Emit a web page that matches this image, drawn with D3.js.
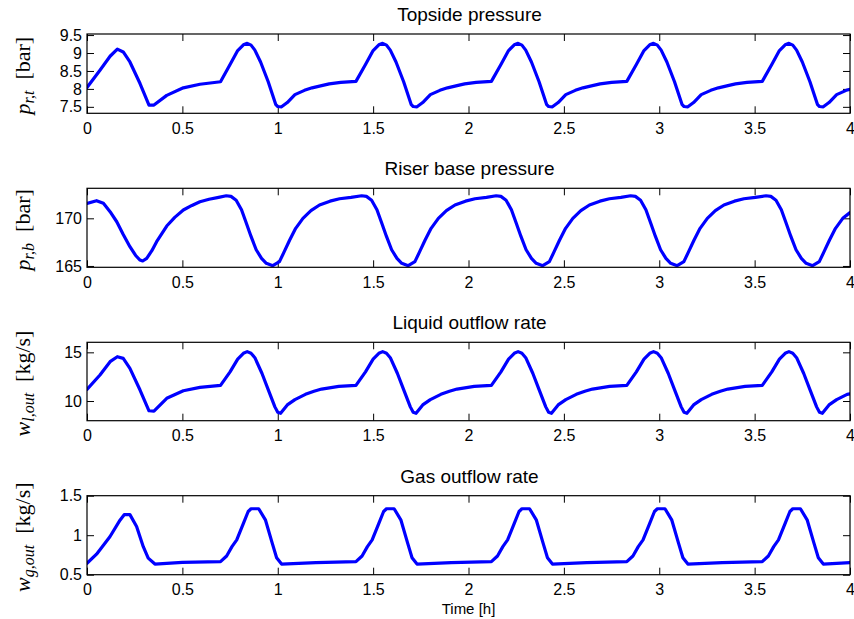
<!DOCTYPE html>
<html><head><meta charset="utf-8">
<script src="https://cdn.jsdelivr.net/npm/d3@7/dist/d3.min.js"></script>
<style>body{margin:0;background:#fff}</style>
</head><body>
<svg id="c" width="854" height="619"></svg>
<script>
// ---------------- data ----------------
const xTicks = [0, 0.5, 1, 1.5, 2, 2.5, 3, 3.5, 4];
const titles = ["Topside pressure", "Riser base pressure", "Liquid outflow rate", "Gas outflow rate"];
const xLabel = "Time [h]";

const topsideTicks = [7.5, 8, 8.5, 9, 9.5];
const riserTicks = [165, 170];
const liquidTicks = [10, 15];
const gasTicks = [0.5, 1, 1.5];

const topsideTime = [0, 0.068, 0.121, 0.159, 0.19, 0.225, 0.278, 0.325, 0.351, 0.418, 0.505, 0.592, 0.70,
  0.75, 0.79, 0.82, 0.84, 0.86, 0.88, 0.91, 0.95, 0.99, 1.00, 1.02, 1.05, 1.09, 1.14, 1.18, 1.23, 1.27, 1.33,
  1.41, 1.46, 1.50, 1.53, 1.55, 1.57, 1.59, 1.62, 1.66, 1.70, 1.71, 1.73, 1.76, 1.80, 1.85, 1.89, 1.94, 1.98, 2.04,
  2.12, 2.17, 2.21, 2.24, 2.26, 2.28, 2.30, 2.33, 2.37, 2.41, 2.42, 2.44, 2.47, 2.51, 2.56, 2.60, 2.65, 2.69, 2.75,
  2.83, 2.88, 2.92, 2.95, 2.97, 2.99, 3.01, 3.04, 3.08, 3.12, 3.13, 3.15, 3.18, 3.22, 3.27, 3.31, 3.36, 3.40, 3.46,
  3.54, 3.59, 3.63, 3.66, 3.68, 3.70, 3.72, 3.75, 3.79, 3.83, 3.84, 3.86, 3.89, 3.93, 3.98, 4.00];
const topsideP = [8.04, 8.52, 8.91, 9.11, 9.03, 8.75, 8.15, 7.55, 7.55, 7.82, 8.03, 8.13, 8.20,
  8.68, 9.07, 9.23, 9.27, 9.22, 9.08, 8.75, 8.20, 7.56, 7.51, 7.50, 7.62, 7.84, 7.96, 8.03, 8.09, 8.14, 8.18,
  8.21, 8.68, 9.07, 9.23, 9.27, 9.22, 9.08, 8.75, 8.20, 7.56, 7.51, 7.50, 7.62, 7.84, 7.96, 8.03, 8.09, 8.14, 8.18,
  8.21, 8.68, 9.07, 9.23, 9.27, 9.22, 9.08, 8.75, 8.20, 7.56, 7.51, 7.50, 7.62, 7.84, 7.96, 8.03, 8.09, 8.14, 8.18,
  8.21, 8.68, 9.07, 9.23, 9.27, 9.22, 9.08, 8.75, 8.20, 7.56, 7.51, 7.50, 7.62, 7.84, 7.96, 8.03, 8.09, 8.14, 8.18,
  8.21, 8.68, 9.07, 9.23, 9.27, 9.22, 9.08, 8.75, 8.20, 7.56, 7.51, 7.50, 7.62, 7.84, 7.96, 7.99];

const riserTime = [0, 0.05, 0.086, 0.121, 0.156, 0.19, 0.225, 0.255, 0.278, 0.292, 0.313, 0.34, 0.365, 0.418, 0.46, 0.505, 0.55, 0.592, 0.64, 0.69,
  0.73, 0.755, 0.782, 0.81, 0.835, 0.86, 0.887, 0.915, 0.94, 0.974, 1.009, 1.034, 1.062, 1.094, 1.132, 1.174, 1.219, 1.274, 1.324, 1.384,
  1.44, 1.465, 1.492, 1.52, 1.545, 1.57, 1.597, 1.625, 1.65, 1.684, 1.719, 1.744, 1.772, 1.804, 1.842, 1.884, 1.929, 1.984, 2.034, 2.094,
  2.145, 2.17, 2.197, 2.225, 2.25, 2.275, 2.302, 2.33, 2.355, 2.389, 2.424, 2.449, 2.477, 2.509, 2.547, 2.589, 2.634, 2.689, 2.739, 2.799,
  2.85, 2.875, 2.902, 2.93, 2.955, 2.98, 3.007, 3.035, 3.06, 3.094, 3.129, 3.154, 3.182, 3.214, 3.252, 3.294, 3.339, 3.394, 3.444, 3.504,
  3.56, 3.585, 3.612, 3.64, 3.665, 3.69, 3.717, 3.745, 3.77, 3.804, 3.839, 3.864, 3.892, 3.924, 3.962, 4.0];
const riserP = [171.57, 171.85, 171.57, 170.7, 169.64, 168.3, 167.02, 166.1, 165.62, 165.52, 165.8, 166.6, 167.55, 169.19, 170.1, 170.87, 171.35, 171.74, 172.0, 172.2,
  172.37, 172.3, 171.9, 170.9, 169.5, 168.1, 166.7, 165.8, 165.28, 165.03, 165.45, 166.5, 167.7, 168.95, 170.0, 170.8, 171.4, 171.8, 172.05, 172.2,
  172.37, 172.3, 171.9, 170.9, 169.5, 168.1, 166.7, 165.8, 165.28, 165.03, 165.45, 166.5, 167.7, 168.95, 170.0, 170.8, 171.4, 171.8, 172.05, 172.2,
  172.37, 172.3, 171.9, 170.9, 169.5, 168.1, 166.7, 165.8, 165.28, 165.03, 165.45, 166.5, 167.7, 168.95, 170.0, 170.8, 171.4, 171.8, 172.05, 172.2,
  172.37, 172.3, 171.9, 170.9, 169.5, 168.1, 166.7, 165.8, 165.28, 165.03, 165.45, 166.5, 167.7, 168.95, 170.0, 170.8, 171.4, 171.8, 172.05, 172.2,
  172.37, 172.3, 171.9, 170.9, 169.5, 168.1, 166.7, 165.8, 165.28, 165.03, 165.45, 166.5, 167.7, 168.95, 170.0, 170.6];

const liquidTime = [0, 0.068, 0.121, 0.159, 0.19, 0.225, 0.278, 0.325, 0.351, 0.418, 0.505, 0.592, 0.70,
  0.75, 0.79, 0.82, 0.84, 0.86, 0.88, 0.917, 0.95, 0.985, 1.00, 1.015, 1.05, 1.09, 1.145, 1.19, 1.23, 1.32,
  1.41, 1.46, 1.50, 1.53, 1.55, 1.57, 1.59, 1.627, 1.66, 1.695, 1.71, 1.725, 1.76, 1.80, 1.855, 1.90, 1.94, 2.03,
  2.12, 2.17, 2.21, 2.24, 2.26, 2.28, 2.30, 2.337, 2.37, 2.405, 2.42, 2.435, 2.47, 2.51, 2.565, 2.61, 2.65, 2.74,
  2.83, 2.88, 2.92, 2.95, 2.97, 2.99, 3.01, 3.047, 3.08, 3.115, 3.13, 3.145, 3.18, 3.22, 3.275, 3.32, 3.36, 3.45,
  3.54, 3.59, 3.63, 3.66, 3.68, 3.70, 3.72, 3.757, 3.79, 3.825, 3.84, 3.855, 3.89, 3.93, 3.985, 4.00];
const liquidW = [11.2, 12.67, 14.04, 14.55, 14.38, 13.36, 11.13, 9.0, 8.97, 10.28, 11.06, 11.4, 11.6,
  13.0, 14.3, 14.9, 15.07, 14.9, 14.45, 12.85, 11.17, 9.4, 8.84, 8.74, 9.6, 10.15, 10.69, 11.0, 11.23, 11.5,
  11.6, 13.0, 14.3, 14.9, 15.07, 14.9, 14.45, 12.85, 11.17, 9.4, 8.84, 8.74, 9.6, 10.15, 10.69, 11.0, 11.23, 11.5,
  11.6, 13.0, 14.3, 14.9, 15.07, 14.9, 14.45, 12.85, 11.17, 9.4, 8.84, 8.74, 9.6, 10.15, 10.69, 11.0, 11.23, 11.5,
  11.6, 13.0, 14.3, 14.9, 15.07, 14.9, 14.45, 12.85, 11.17, 9.4, 8.84, 8.74, 9.6, 10.15, 10.69, 11.0, 11.23, 11.5,
  11.6, 13.0, 14.3, 14.9, 15.07, 14.9, 14.45, 12.85, 11.17, 9.4, 8.84, 8.74, 9.6, 10.15, 10.69, 10.74];

const gasTime = [0, 0.05, 0.12, 0.173, 0.195, 0.225, 0.26, 0.295, 0.321, 0.356, 0.50,
  0.70, 0.732, 0.76, 0.785, 0.82, 0.845, 0.86, 0.90, 0.936, 0.971, 0.994, 1.02, 1.20,
  1.41, 1.442, 1.47, 1.495, 1.53, 1.555, 1.57, 1.61, 1.646, 1.681, 1.704, 1.73, 1.91,
  2.12, 2.152, 2.18, 2.205, 2.24, 2.265, 2.28, 2.32, 2.356, 2.391, 2.414, 2.44, 2.62,
  2.83, 2.862, 2.89, 2.915, 2.95, 2.975, 2.99, 3.03, 3.066, 3.101, 3.124, 3.15, 3.33,
  3.54, 3.572, 3.60, 3.625, 3.66, 3.685, 3.70, 3.74, 3.776, 3.811, 3.834, 3.86, 4.00];
const gasW = [0.644, 0.76, 0.98, 1.19, 1.26, 1.26, 1.11, 0.855, 0.71, 0.635, 0.655,
  0.665, 0.737, 0.855, 0.94, 1.15, 1.30, 1.335, 1.335, 1.19, 0.90, 0.715, 0.635, 0.652,
  0.665, 0.737, 0.855, 0.94, 1.15, 1.30, 1.335, 1.335, 1.19, 0.90, 0.715, 0.635, 0.652,
  0.665, 0.737, 0.855, 0.94, 1.15, 1.30, 1.335, 1.335, 1.19, 0.90, 0.715, 0.635, 0.652,
  0.665, 0.737, 0.855, 0.94, 1.15, 1.30, 1.335, 1.335, 1.19, 0.90, 0.715, 0.635, 0.652,
  0.665, 0.737, 0.855, 0.94, 1.15, 1.30, 1.335, 1.335, 1.19, 0.90, 0.715, 0.635, 0.652];

// ---------------- layout ----------------
const left = 87, right = 850;
const panels = [
  {top: 34, bottom: 113.3, domain: [7.32, 9.53], ticks: topsideTicks, t: topsideTime, v: topsideP,
   label: [["p", "it"], ["r,t", "sub"], ["\u2002[bar]", ""]]},
  {top: 188.3, bottom: 267.3, domain: [164.86, 173.15], ticks: riserTicks, t: riserTime, v: riserP,
   label: [["p", "it"], ["r,b", "sub"], ["\u2002[bar]", ""]]},
  {top: 342.3, bottom: 420.7, domain: [7.98, 16.03], ticks: liquidTicks, t: liquidTime, v: liquidW,
   label: [["w", "it"], ["l,out", "sub"], ["\u2002[kg/s]", ""]]},
  {top: 495.7, bottom: 574.7, domain: [0.5, 1.5], ticks: gasTicks, t: gasTime, v: gasW,
   label: [["w", "it"], ["g,out", "sub"], ["\u2002[kg/s]", ""]]}
];

const svg = d3.select("#c");
const x = d3.scaleLinear().domain([0, 4]).range([left, right]);
const sans = "'Liberation Sans', Arial, Helvetica, sans-serif";
const serif = "'Liberation Serif', 'Times New Roman', serif";
const fmt = d => String(d);

panels.forEach((p, i) => {
  const y = d3.scaleLinear().domain(p.domain).range([p.bottom, p.top]);
  const g = svg.append("g");
  const h = p.bottom - p.top;

  const clipId = "clip" + i;
  svg.append("clipPath").attr("id", clipId).append("rect")
    .attr("x", left).attr("y", p.top).attr("width", right - left).attr("height", h);

  // axes (MATLAB style: inward ticks on all sides)
  const tl = 7;
  const bottomAx = d3.axisBottom(x).tickValues(xTicks).tickSize(-tl).tickPadding(9).tickFormat(fmt);
  const topAx = d3.axisTop(x).tickValues(xTicks).tickSize(-tl).tickFormat("");
  const leftAx = d3.axisLeft(y).tickValues(p.ticks).tickSize(-tl).tickPadding(5).tickFormat(fmt);
  const rightAx = d3.axisRight(y).tickValues(p.ticks).tickSize(-tl).tickFormat("");

  const gb = g.append("g").attr("transform", `translate(0,${p.bottom})`).call(bottomAx);
  const gt = g.append("g").attr("transform", `translate(0,${p.top})`).call(topAx);
  const gl = g.append("g").attr("transform", `translate(${left},0)`).call(leftAx);
  const gr = g.append("g").attr("transform", `translate(${right},0)`).call(rightAx);
  [gb, gt, gl, gr].forEach(a => {
    a.select(".domain").remove();
    a.selectAll("line").attr("stroke", "#000").attr("stroke-width", 1);
    a.selectAll("text").attr("font-family", sans).attr("font-size", 16).attr("fill", "#000");
  });

  // line
  const pts = p.t.map((t, k) => [t, p.v[k]]);
  g.append("path").datum(pts)
    .attr("clip-path", `url(#${clipId})`)
    .attr("fill", "none").attr("stroke", "#0000ff").attr("stroke-width", 3.2)
    .attr("stroke-linejoin", "round").attr("stroke-linecap", "round")
    .attr("d", d3.line().x(d => x(d[0])).y(d => y(d[1])));

  // box
  g.append("rect").attr("x", left).attr("y", p.top).attr("width", right - left).attr("height", h)
    .attr("fill", "none").attr("stroke", "#000").attr("stroke-width", 1.2);

  // title
  svg.append("text").attr("x", (left + right) / 2 + 1).attr("y", p.top - 13)
    .attr("text-anchor", "middle").attr("font-family", sans).attr("font-size", 19)
    .attr("fill", "#000").text(titles[i]);

  // y label
  const cy = (p.top + p.bottom) / 2 + 2;
  const lab = svg.append("text").attr("transform", `translate(30,${cy}) rotate(-90)`)
    .attr("text-anchor", "middle").attr("font-family", serif).attr("font-size", 22).attr("fill", "#000")
    .attr("xml:space", "preserve");
  let shifted = false;
  p.label.forEach(([txt, kind]) => {
    const ts = lab.append("tspan").text(txt);
    if (kind === "it") ts.attr("font-style", "italic");
    if (kind === "sub") { ts.attr("font-style", "italic").attr("font-size", 16).attr("dy", 4); shifted = true; }
    if (kind === "" && shifted) { ts.attr("dy", -4); shifted = false; }
  });
});

svg.append("text").attr("x", (left + right) / 2).attr("y", 614)
  .attr("text-anchor", "middle").attr("font-family", sans).attr("font-size", 15)
  .attr("fill", "#000").text(xLabel);
</script>
</body></html>
